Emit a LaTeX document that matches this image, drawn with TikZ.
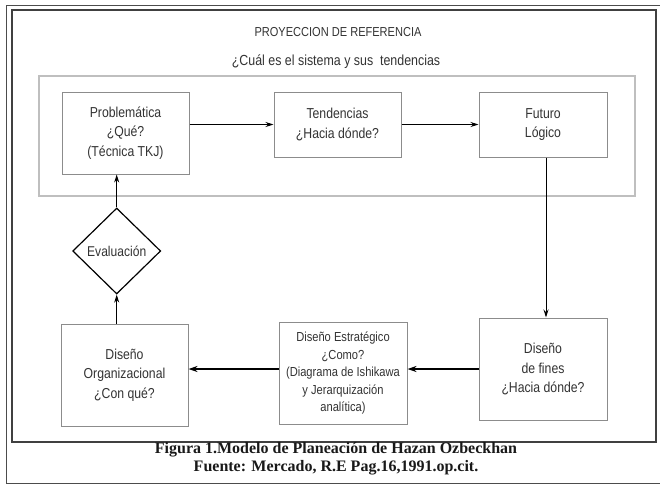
\documentclass[tikz,border=0pt]{standalone}
\usepackage{fontspec}
\setmainfont{Liberation Serif}
\newfontfamily\narrowfont[FakeStretch=0.85]{Liberation Sans}
\usetikzlibrary{shapes.geometric,arrows.meta}

\begin{document}
\begin{tikzpicture}[x=1pt,y=-1pt,
  caja/.style={draw=black!45, line width=1pt, fill=white, align=center, inner sep=0pt,
    text=black!80, font=\narrowfont\fontsize{14.4}{19.5}\selectfont},
  rombo/.style={diamond, draw=black, line width=1.2pt, fill=white, inner sep=0pt,
    minimum width=88pt, minimum height=86pt, text=black!80, font=\narrowfont\fontsize{14.2}{16}\selectfont},
  flecha/.style={-{Stealth[length=8pt,width=5pt]}, line width=1pt},
  flechag/.style={-{Stealth[length=9pt,width=6pt]}, line width=2pt}]
\useasboundingbox (0,0) rectangle (660,485);
% marcos
\draw[black!70, line width=1pt] (6,5.5) rectangle (680,483.5);
\draw[black!75, line width=2pt] (12,10) rectangle (656,442);
\draw[black!25, line width=1.5pt] (39,76) rectangle (635,196);
% titulo
\node[text=black!80, font=\narrowfont\fontsize{13}{15}\selectfont] (titulo) at (338,32) {PROYECCION DE REFERENCIA};
\node[text=black!80, font=\narrowfont\fontsize{14.6}{16}\selectfont] (pregunta) at (336,62) {¿Cuál es el sistema y sus\ \ tendencias};
% fila de arriba
\node[caja, minimum width=127pt, minimum height=82pt] (prob) at (125.5,133) {Problemática\\¿Qué?\\(Técnica TKJ)};
\node[caja, minimum width=127pt, minimum height=65pt] (tend) at (337.5,124.5) {Tendencias\\¿Hacia dónde?};
\node[caja, minimum width=128pt, minimum height=65pt] (fut) at (543,124.5) {Futuro\\Lógico};
% fila de abajo
\node[caja, minimum width=128pt, minimum height=102pt] (fines) at (543,369) {Diseño\\de fines\\¿Hacia dónde?};
\node[caja, minimum width=128pt, minimum height=102pt,
  font=\narrowfont\fontsize{13.1}{17.5}\selectfont] (estr) at (343,373.5) {Diseño Estratégico\\¿Como?\\(Diagrama de Ishikawa\\y Jerarquización\\analítica)};
\node[caja, minimum width=127pt, minimum height=102pt] (org) at (124.5,375) {Diseño\\Organizacional\\¿Con qué?};
\node[rombo] (eval) at (116.7,251) {Evaluación};
% flechas
\draw[flecha] (prob.east |- tend.west) -- (tend.west);
\draw[flecha] (tend.east) -- (fut.west);
\draw[flecha] ([xshift=3pt]fut.south) -- ([xshift=3pt]fines.north);
\draw[flechag] (fines.west) -- (fines.west -| estr.east);
\draw[flechag] (estr.west |- fines.west) -- (fines.west -| org.east);
\draw[flecha] (eval.south |- org.north) -- (eval.south);
\draw[flecha] (eval.north) -- (eval.north |- prob.south);
% pie
\node[font=\bfseries\fontsize{16}{18}\selectfont, text=black!90] (pie1) at (336,450) {Figura 1.Modelo de Planeación de Hazan Ozbeckhan};
\node[font=\bfseries\fontsize{16}{18}\selectfont, text=black!90] (pie2) at (336,468) {Fuente: Mercado, R.E Pag.16,1991.op.cit.};
\end{tikzpicture}
\end{document}
